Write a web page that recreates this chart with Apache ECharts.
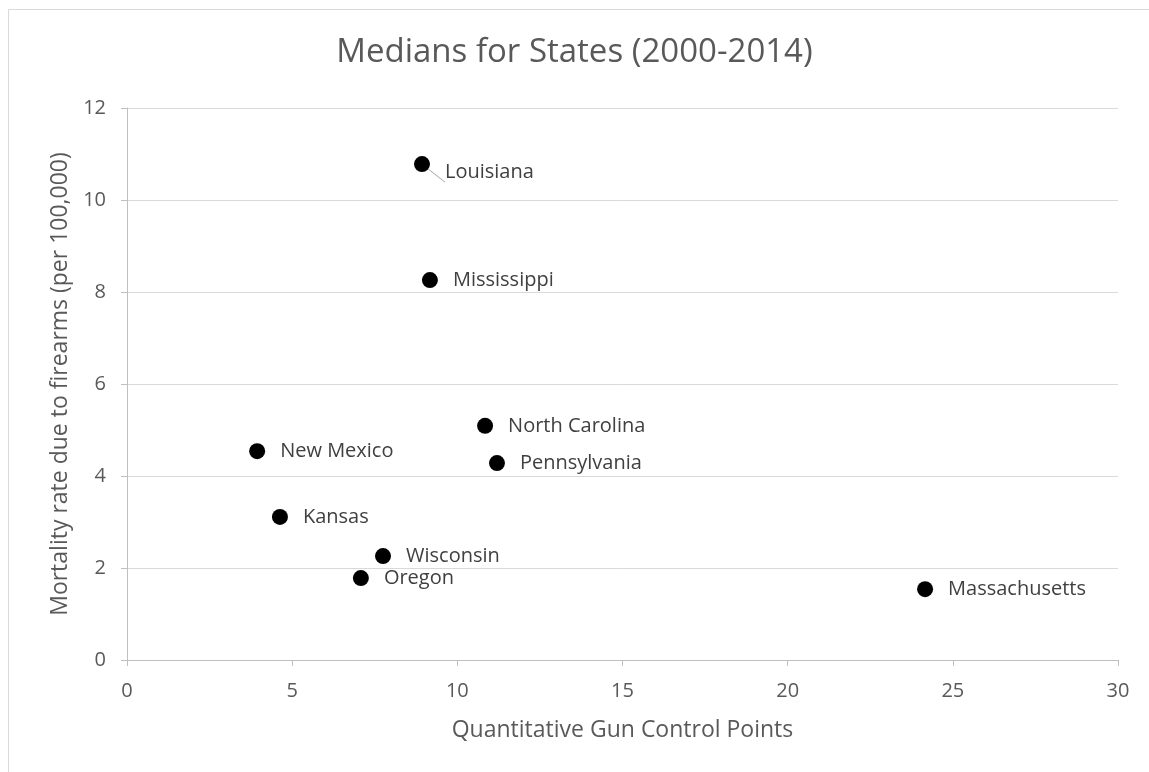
<!DOCTYPE html>
<html><head><meta charset="utf-8">
<script src="https://cdn.jsdelivr.net/npm/echarts@6/dist/echarts.min.js"></script>
<style>html,body{margin:0;padding:0;background:#fff}#c{width:1149px;height:772px}</style>
</head><body><div id="c"></div>
<script>
const states = ['Louisiana','Mississippi','North Carolina','Pennsylvania','New Mexico','Kansas','Wisconsin','Oregon','Massachusetts'];
const gunPoints = [8.93, 9.17, 10.84, 11.2, 3.94, 4.63, 7.75, 7.08, 24.16];
const mortality = [10.78, 8.26, 5.09, 4.28, 4.54, 3.11, 2.26, 1.78, 1.54];
const xTicks = [0, 5, 10, 15, 20, 25, 30];
const yTicks = [0, 2, 4, 6, 8, 10, 12];

const font = '"Open Sans", "Noto Sans", sans-serif';
const data = states.map((s, i) => {
  const d = { name: s, value: [gunPoints[i], mortality[i]] };
  if (s === 'Louisiana') {
    d.label = { offset: [0, 8] };
    d.labelLine = { show: true };
  }
  return d;
});

const chart = echarts.init(document.getElementById('c'), null, { renderer: 'canvas' });
chart.setOption({
  animation: false,
  backgroundColor: '#fff',
  textStyle: { fontFamily: font },
  graphic: [{
    type: 'rect', shape: { x: 8.5, y: 9.5, width: 1160, height: 800 },
    style: { fill: 'none', stroke: '#d9d9d9', lineWidth: 1 }, silent: true
  }],
  title: {
    text: 'Medians for States (2000-2014)', left: 'center', top: 31,
    textStyle: { fontFamily: font, fontSize: 33, fontWeight: 'normal', color: '#595959' }
  },
  grid: { left: 127, right: 31, top: 108, bottom: 112 },
  xAxis: {
    type: 'value', min: xTicks[0], max: xTicks[xTicks.length - 1], interval: 5,
    name: 'Quantitative Gun Control Points', nameLocation: 'middle', nameGap: 59,
    nameTextStyle: { fontFamily: font, fontSize: 23, color: '#595959' },
    axisLine: { show: true, lineStyle: { color: '#bfbfbf', width: 1 } },
    axisTick: { show: true, length: 6, lineStyle: { color: '#bfbfbf' } },
    axisLabel: { fontFamily: font, fontSize: 20, color: '#595959', margin: 21 },
    splitLine: { show: false }
  },
  yAxis: {
    type: 'value', min: yTicks[0], max: yTicks[yTicks.length - 1], interval: 2,
    name: 'Mortality rate due to firearms (per 100,000)', nameLocation: 'middle', nameGap: 52,
    nameTextStyle: { fontFamily: font, fontSize: 23, color: '#595959' },
    axisLine: { show: true, lineStyle: { color: '#bfbfbf', width: 1 } },
    axisTick: { show: true, length: 6, lineStyle: { color: '#bfbfbf' } },
    axisLabel: { fontFamily: font, fontSize: 20, color: '#595959', margin: 21 },
    splitLine: { show: true, lineStyle: { color: '#d9d9d9', width: 1 } }
  },
  series: [{
    type: 'scatter', symbolSize: 16,
    itemStyle: { color: '#000', opacity: 1 },
    data: data,
    label: {
      show: true, position: 'right', distance: 15, formatter: '{b}',
      fontFamily: font, fontSize: 20, color: '#404040'
    },
    labelLine: { show: false, lineStyle: { color: '#a6a6a6', width: 1 } }
  }]
});
</script></body></html>
